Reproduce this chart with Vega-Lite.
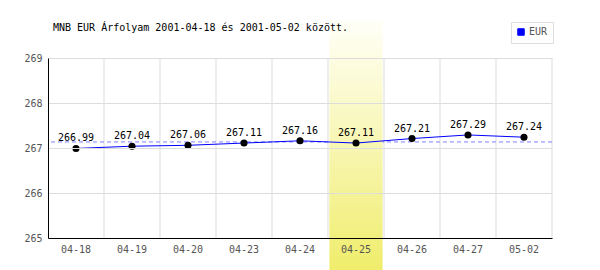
{
  "$schema": "https://vega.github.io/schema/vega-lite/v6.json",
  "width": 504,
  "height": 180,
  "autosize": {"type": "none"},
  "padding": {"left": 48, "top": 58, "right": 48, "bottom": 32},
  "background": "white",
  "title": {
    "text": "MNB EUR Árfolyam 2001-04-18 és 2001-05-02 között.",
    "anchor": "start", "frame": "group", "dx": 5, "dy": 40, "offset": 27,
    "font": "DejaVu Sans Mono", "fontSize": 10, "fontWeight": "normal", "color": "black"
  },
  "config": {
    "view": {"stroke": null},
    "axis": {"labelFont": "DejaVu Sans Mono", "labelFontSize": 10, "labelColor": "#555", "ticks": false, "domainColor": "black", "domainWidth": 1, "title": null}
  },
  "data": {"values": [
    {"d": "04-18", "v": 266.99},
    {"d": "04-19", "v": 267.04},
    {"d": "04-20", "v": 267.06},
    {"d": "04-23", "v": 267.11},
    {"d": "04-24", "v": 267.16},
    {"d": "04-25", "v": 267.11},
    {"d": "04-26", "v": 267.21},
    {"d": "04-27", "v": 267.29},
    {"d": "05-02", "v": 267.24}
  ]},
  "encoding": {
    "x": {"field": "d", "type": "ordinal", "sort": null,
      "scale": {"paddingInner": 0, "paddingOuter": 0},
      "axis": {"labelAngle": 0, "labelPadding": 6, "grid": false, "zindex": 1}}
  },
  "layer": [
    {
      "mark": {"type": "rule", "color": "#ddd", "strokeWidth": 1},
      "encoding": {
        "x": {"field": "d", "type": "ordinal", "sort": null, "bandPosition": 1},
        "y": {"datum": 265, "type": "quantitative",
          "scale": {"domain": [265, 269], "nice": false, "zero": false},
          "axis": {"values": [265, 266, 267, 268, 269], "grid": true, "gridColor": "#ddd", "labelPadding": 6, "zindex": 1, "labelOverlap": false}},
        "y2": {"datum": 269}
      }
    },
    {
      "mark": {"type": "rule", "color": "#8080ff", "strokeDash": [4, 3], "strokeWidth": 1},
      "encoding": {
        "x": null,
        "y": {"aggregate": "mean", "field": "v", "type": "quantitative"}
      }
    },
    {
      "data": {"values": [{"d": "04-25"}]},
      "mark": {"type": "bar", "clip": false, "width": {"band": 0.95},
        "color": {"gradient": "linear", "x1": 0, "y1": 0, "x2": 0, "y2": 1,
          "stops": [{"offset": 0, "color": "#fffff8"}, {"offset": 1, "color": "#f0ed6c"}]}},
      "encoding": {
        "y": {"datum": 264.29, "type": "quantitative"},
        "y2": {"datum": 269.84}
      }
    },
    {
      "mark": {"type": "line", "strokeWidth": 1},
      "encoding": {
        "y": {"field": "v", "type": "quantitative"},
        "color": {"datum": "EUR", "type": "nominal",
          "scale": {"domain": ["EUR"], "range": ["#0000ff"]},
          "legend": {"orient": "none", "legendX": 463, "legendY": -36, "title": null,
            "symbolType": "square", "symbolSize": 42, "strokeColor": "#ddd", "padding": 5,
            "labelFont": "DejaVu Sans Mono", "labelFontSize": 10, "labelColor": "#555", "labelOffset": 3,
            "encode": {"symbols": {"update": {"fill": {"value": "#0000ff"}, "stroke": {"value": "#555"}, "strokeWidth": {"value": 1}}}}}}
      }
    },
    {
      "mark": {"type": "circle", "color": "black", "opacity": 1, "size": 50},
      "encoding": {"y": {"field": "v", "type": "quantitative"}}
    },
    {
      "mark": {"type": "text", "font": "DejaVu Sans Mono", "fontSize": 10, "color": "black", "dy": -7, "baseline": "alphabetic"},
      "encoding": {
        "y": {"field": "v", "type": "quantitative"},
        "text": {"field": "v", "type": "quantitative", "format": ".2f"}
      }
    }
  ]
}
